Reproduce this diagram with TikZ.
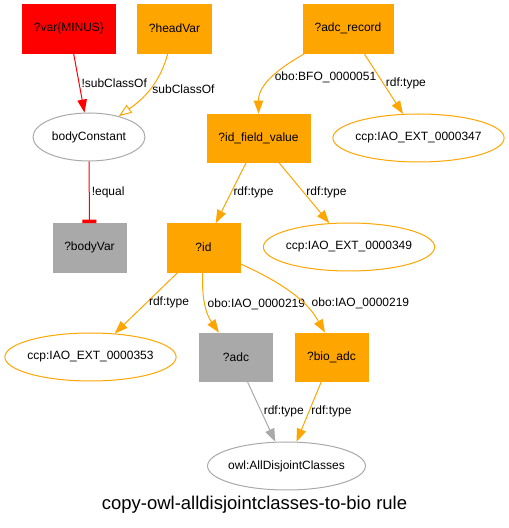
\documentclass[tikz,border=0pt]{standalone}
\usepackage{fontspec}
\setmainfont{Liberation Sans}
\usetikzlibrary{shapes.geometric,arrows.meta}

\definecolor{gvorange}{HTML}{FFA500}
\definecolor{gvgray}{HTML}{A9A9A9}

\begin{document}
\begin{tikzpicture}[x=1pt,y=1pt,
    font=\fontsize{12}{14}\selectfont,
    box/.style={rectangle, fill=#1, draw=#1, minimum width=73pt, minimum height=48.5pt, inner xsep=11.5pt},
    cls/.style={ellipse, draw=#1, line width=1pt, minimum height=48pt, inner xsep=-2.5pt},
    link/.style={draw=#1, line width=1pt, -{Triangle[length=13pt,width=9.5pt]}},
    lbl/.style={midway, right, inner sep=2pt}]

    \useasboundingbox (0,0) rectangle (509,528);

    % variables in boxes
    \node[box=red] (var) at (69,499.5) {?var\{MINUS\}};
    \node[box=gvorange] (head) at (174.5,499.5) {?headVar};
    \node[box=gvorange] (rec) at (348,499.5) {?adc\_record};
    \node[box=gvorange] (fval) at (258.5,390) {?id\_field\_value};
    \node[box=gvgray] (bvar) at (89.5,280.5) {?bodyVar};
    \node[box=gvorange] (id) at (203.5,280.5) {?id};
    \node[box=gvgray] (adc) at (236,171) {?adc};
    \node[box=gvorange] (bio) at (331.5,171) {?bio\_adc};

    % classes in ellipses
    \node[cls=gvgray, minimum width=112pt] (bconst) at (89,391) {bodyConstant};
    \node[cls=gvgray] (owl) at (286.5,62) {owl:AllDisjointClasses};
    \foreach \n/\x/\y in {347/418.5/390, 349/349/281, 353/90.5/171} {
        \node[cls=gvorange] (c\n) at (\x,\y) {ccp:IAO\_EXT\_0000\n};
    }

    % edges
    \draw[link=red] (var) -- node[lbl] {!subClassOf} (bconst);
    \draw[link=gvorange, -{Triangle[open,fill=white,length=13pt,width=9.5pt]}] (head) to[out=-105,in=35] node[lbl] {subClassOf} (bconst);
    \draw[draw=red, line width=1pt, -{Rectangle[length=3.5pt,width=14pt]}] (bconst) -- node[lbl] {!equal} (bvar);
    \draw[link=gvorange] (rec) to[out=-150,in=90] node[lbl] {obo:BFO\_0000051} (fval);
    \draw[link=gvorange] (id) to[out=-92,in=125] node[lbl] {obo:IAO\_0000219} (adc);
    \draw[link=gvorange] (id) to[out=-24,in=120,out looseness=1.5,in looseness=.6] node[lbl,pos=.55,right=6pt] {obo:IAO\_0000219} (bio.105);

    % the rdf:type edges
    \foreach \a/\b/\c in {rec/c347/gvorange, fval/id/gvorange, fval/c349/gvorange,
                          id/c353/gvorange, adc/owl/gvgray, bio/owl/gvorange} {
        \draw[link=\c] (\a) -- node[lbl] {rdf:type} (\b);
    }

    \node[anchor=base] (title) at (254.5,18) {\fontsize{18.5}{22}\selectfont copy-owl-alldisjointclasses-to-bio rule};

\end{tikzpicture}
\end{document}
